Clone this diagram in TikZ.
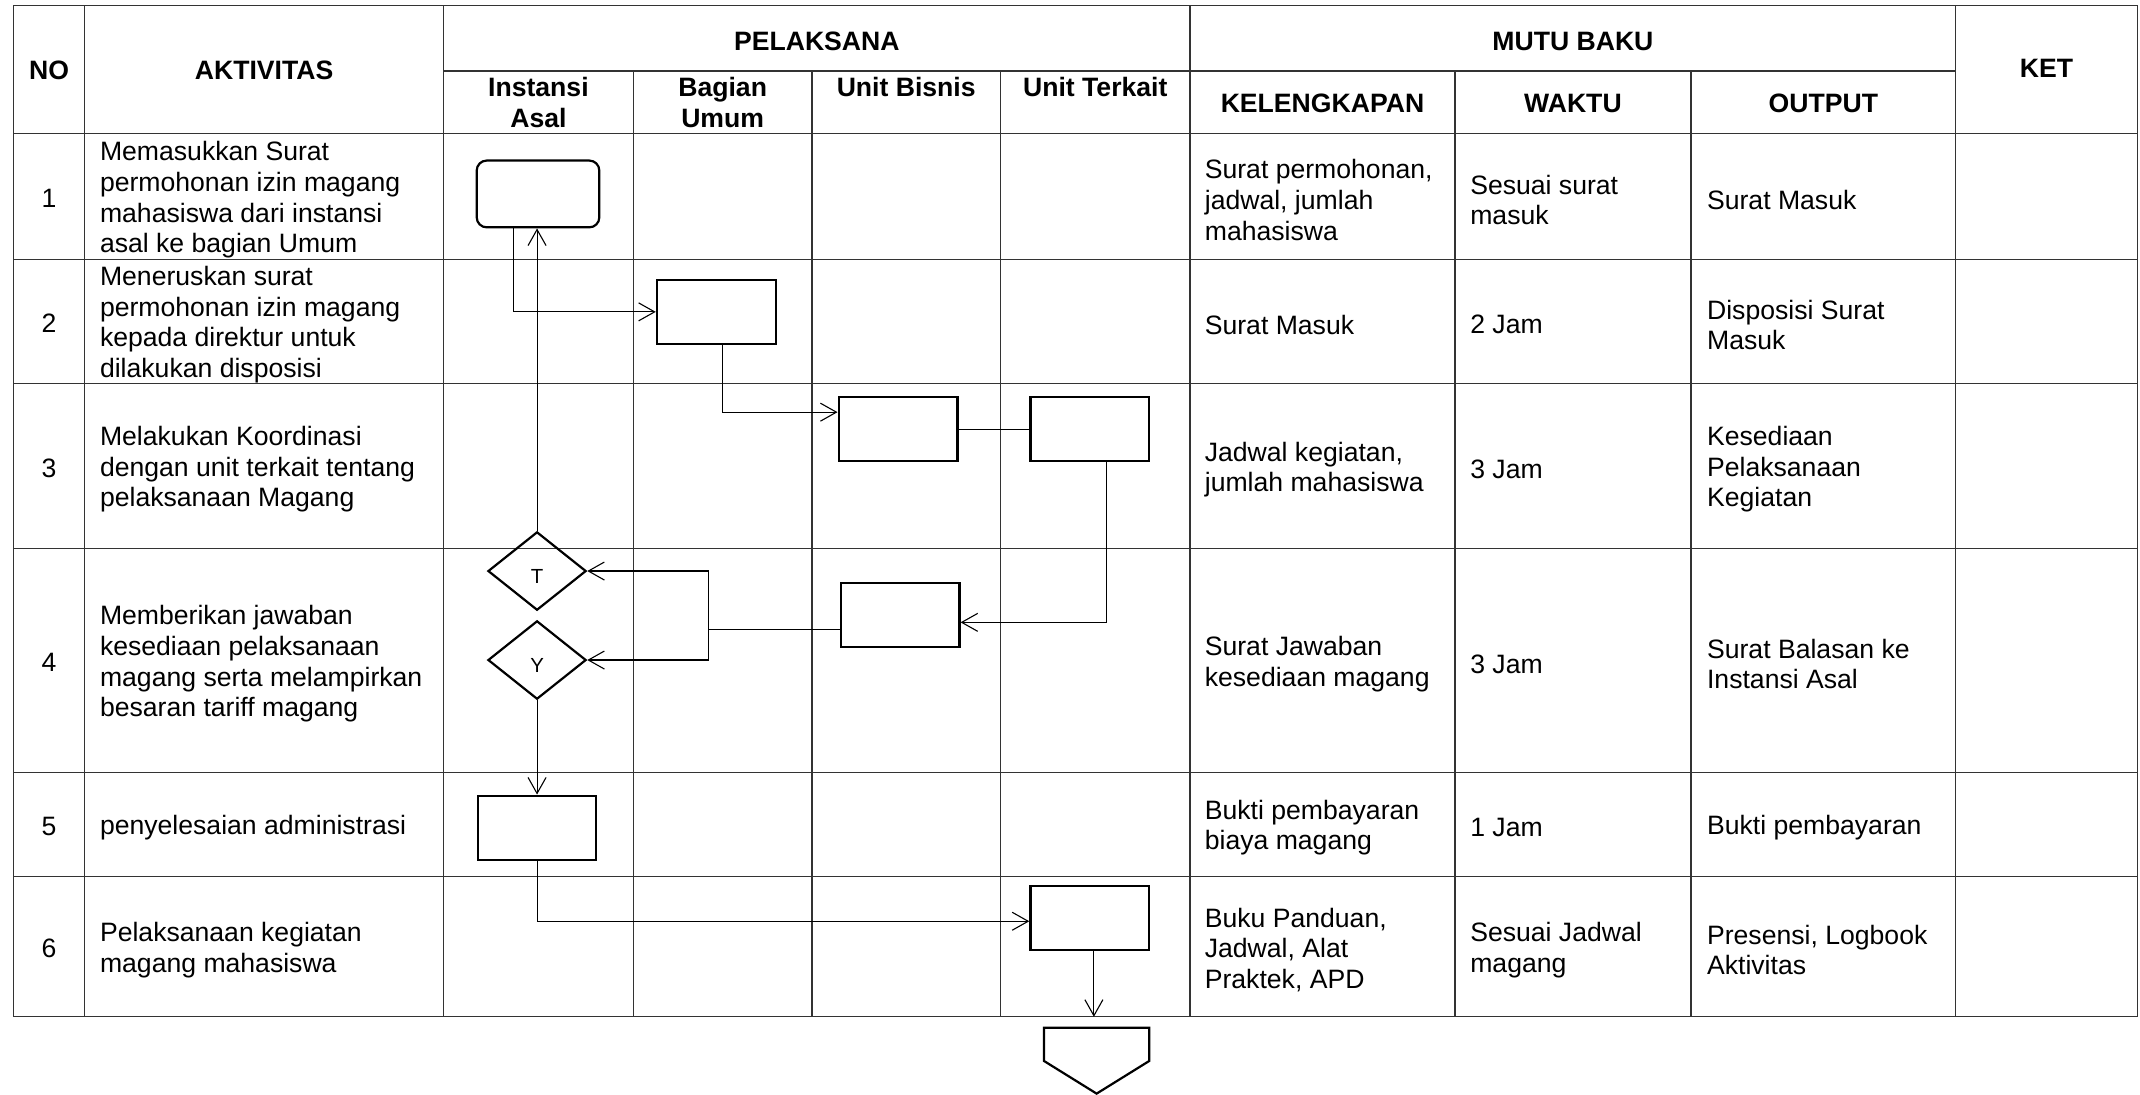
\documentclass[tikz,border=0pt]{standalone}
\usepackage{fontspec}
\setmainfont{Liberation Sans}
\usetikzlibrary{shapes.geometric,arrows.meta,calc}
\newcommand\txtsz{\fontsize{13.3}{15.3}\selectfont}
\begin{document}
\begin{tikzpicture}[x=0.6824pt,y=-0.6824pt,
  grid/.style={line width=0.7pt,draw=black!80},
  box/.style={draw,line width=1.1pt,minimum width=59.4pt,minimum height=32.1pt,inner sep=0pt},
  dec/.style={draw,line width=1.1pt,shape=diamond,aspect=1.25,minimum width=49.1pt,minimum height=39.2pt,inner sep=0pt,font=\fontsize{10.2}{12}\selectfont,text height=12.5pt,text depth=0pt},
  con/.style={line width=0.55pt},
  arr/.style={con,-{Straight Barb[length=8pt,width=9pt]}},
  cell/.style={anchor=west,align=left,inner sep=0pt,font=\txtsz,yshift=-1.7pt},
  num/.style={inner sep=0pt,font=\txtsz},
  hd/.style={align=center,inner sep=0pt,font=\txtsz\bfseries},
]
\useasboundingbox (0,0) rectangle (1568,802.3);
% table grid
\draw[grid] (10,4) rectangle (1566,745);
\foreach \x in {62,325,872,1433} \draw[grid] (\x,4) -- (\x,745);
\foreach \x in {464,595,733,1066,1239} \draw[grid] (\x,52) -- (\x,745);
\draw[grid] (325,52) -- (1433,52);
\foreach \y in {98,190,281,402,566,642} \draw[grid] (10,\y) -- (1566,\y);

% headers
\node[hd,anchor=base] (hNO) at (36,58) {NO};
\node[hd,anchor=base] (hAkt) at (193.5,58) {AKTIVITAS};
\node[hd,anchor=base] (hPel) at (598.5,37) {PELAKSANA};
\node[hd,anchor=base] (hMutu) at (1152.5,37) {MUTU BAKU};
\node[hd,anchor=base] (hKet) at (1499.5,57) {KET};
\node[hd] (hIA) at (394.5,75.2) {Instansi\\Asal};
\node[hd] (hBU) at (529.5,75.2) {Bagian\\Umum};
\node[hd,anchor=base] (hUB) at (664,71) {Unit Bisnis};
\node[hd,anchor=base] (hUT) at (802.5,71) {Unit Terkait};
\node[hd,anchor=base] (hKel) at (969,82.5) {KELENGKAPAN};
\node[hd,anchor=base] (hWak) at (1152.5,82.5) {WAKTU};
\node[hd,anchor=base] (hOut) at (1336,82.5) {OUTPUT};

% numbers
\node[num] (n1) at (36,145.5) {1};
\node[num] (n2) at (36,237) {2};
\node[num] (n3) at (36,343) {3};
\node[num] (n4) at (36,485.5) {4};
\node[num] (n5) at (36,605.5) {5};
\node[num] (n6) at (36,695) {6};

% aktivitas
\node[cell] (a1) at (73,144) {Memasukkan Surat\\permohonan izin magang\\mahasiswa dari instansi\\asal ke bagian Umum};
\node[cell] (a2) at (73,235.5) {Meneruskan surat\\permohonan izin magang\\kepada direktur untuk\\dilakukan disposisi};
\node[cell] (a3) at (73,341.5) {Melakukan Koordinasi\\dengan unit terkait tentang\\pelaksanaan Magang};
\node[cell] (a4) at (73,484) {Memberikan jawaban\\kesediaan pelaksanaan\\magang serta melampirkan\\besaran tariff magang};
\node[cell] (a5) at (73,604) {penyelesaian administrasi};
\node[cell] (a6) at (73,693.5) {Pelaksanaan kegiatan\\magang mahasiswa};

% kelengkapan
\node[cell] (k1) at (882.5,144) {Surat permohonan,\\jadwal, jumlah\\mahasiswa};
\node[cell] (k2) at (882.5,235.5) {Surat Masuk};
\node[cell] (k3) at (882.5,341.5) {Jadwal kegiatan,\\jumlah mahasiswa};
\node[cell] (k4) at (882.5,484) {Surat Jawaban\\kesediaan magang};
\node[cell] (k5) at (882.5,604) {Bukti pembayaran\\biaya magang};
\node[cell] (k6) at (882.5,693.5) {Buku Panduan,\\Jadwal, Alat\\Praktek, APD};

% waktu
\node[cell] (w1) at (1077,144) {Sesuai surat\\masuk};
\node[cell] (w2) at (1077,235.5) {2 Jam};
\node[cell] (w3) at (1077,341.5) {3 Jam};
\node[cell] (w4) at (1077,484) {3 Jam};
\node[cell] (w5) at (1077,604) {1 Jam};
\node[cell] (w6) at (1077,693.5) {Sesuai Jadwal\\magang};

% output
\node[cell] (o1) at (1250.5,144) {Surat Masuk};
\node[cell] (o2) at (1250.5,235.5) {Disposisi Surat\\Masuk};
\node[cell] (o3) at (1250.5,341.5) {Kesediaan\\Pelaksanaan\\Kegiatan};
\node[cell] (o4) at (1250.5,484) {Surat Balasan ke\\Instansi Asal};
\node[cell] (o5) at (1250.5,604) {Bukti pembayaran};
\node[cell] (o6) at (1250.5,693.5) {Presensi, Logbook\\Aktivitas};

% flow shapes
\node[box,rounded corners=5pt,minimum width=61.3pt,minimum height=33.4pt] (R) at (394.2,142.1) {};
\node[box] (B2) at (524.8,228.5) {};
\node[box] (A3) at (658,314.5) {};
\node[box] (B3) at (798.5,314.5) {};
\node[box] (B4) at (659.5,450.5) {};
\node[dec] (T) at (393.5,418.4) {T};
\node[dec] (Y) at (393.5,483.6) {Y};
\node[box,minimum width=58.7pt] (B5) at (393.5,606.5) {};
\node[box] (B6) at (798.5,672.5) {};
\draw[line width=1.1pt] (765,753) -- (842,753) -- (842,777.4) -- (803.5,801.3) -- (765,777.4) -- cycle;

% connectors
\coordinate (r1) at ($(R.south)+(-18.1,0)$);
\draw[arr] (r1) |- (B2.west);
\draw[arr] (T.north) -- (T.north |- R.south);
\coordinate (b2o) at ($(B2.south)+(4.5,0)$);
\coordinate (a3i) at ($(A3.west)+(0,-12.5)$);
\draw[arr] (b2o) |- (a3i);
\draw[con] (A3.east) -- (B3.west);
\coordinate (b3o) at ($(B3.south)+(12.5,0)$);
\coordinate (b4i) at ($(B4.east)+(0,5.5)$);
\draw[arr] (b3o) |- (b4i);
\coordinate (b4o) at ($(B4.west)+(0,10.5)$);
\coordinate (J) at ($(b4o)+(-96,0)$);
\draw[con] (b4o) -- (J);
\draw[arr] (J) |- (T.east);
\draw[arr] (J) |- (Y.east);
\draw[arr] (Y.south) -- (Y.south |- B5.north);
\coordinate (b6i) at ($(B6.west)+(0,2.5)$);
\draw[arr] (B5.south) |- (b6i);
\coordinate (tb) at (0,745);
\coordinate (b6o) at ($(B6.south)+(3,0)$);
\draw[arr] (b6o) -- (b6o |- tb);
\end{tikzpicture}
\end{document}
